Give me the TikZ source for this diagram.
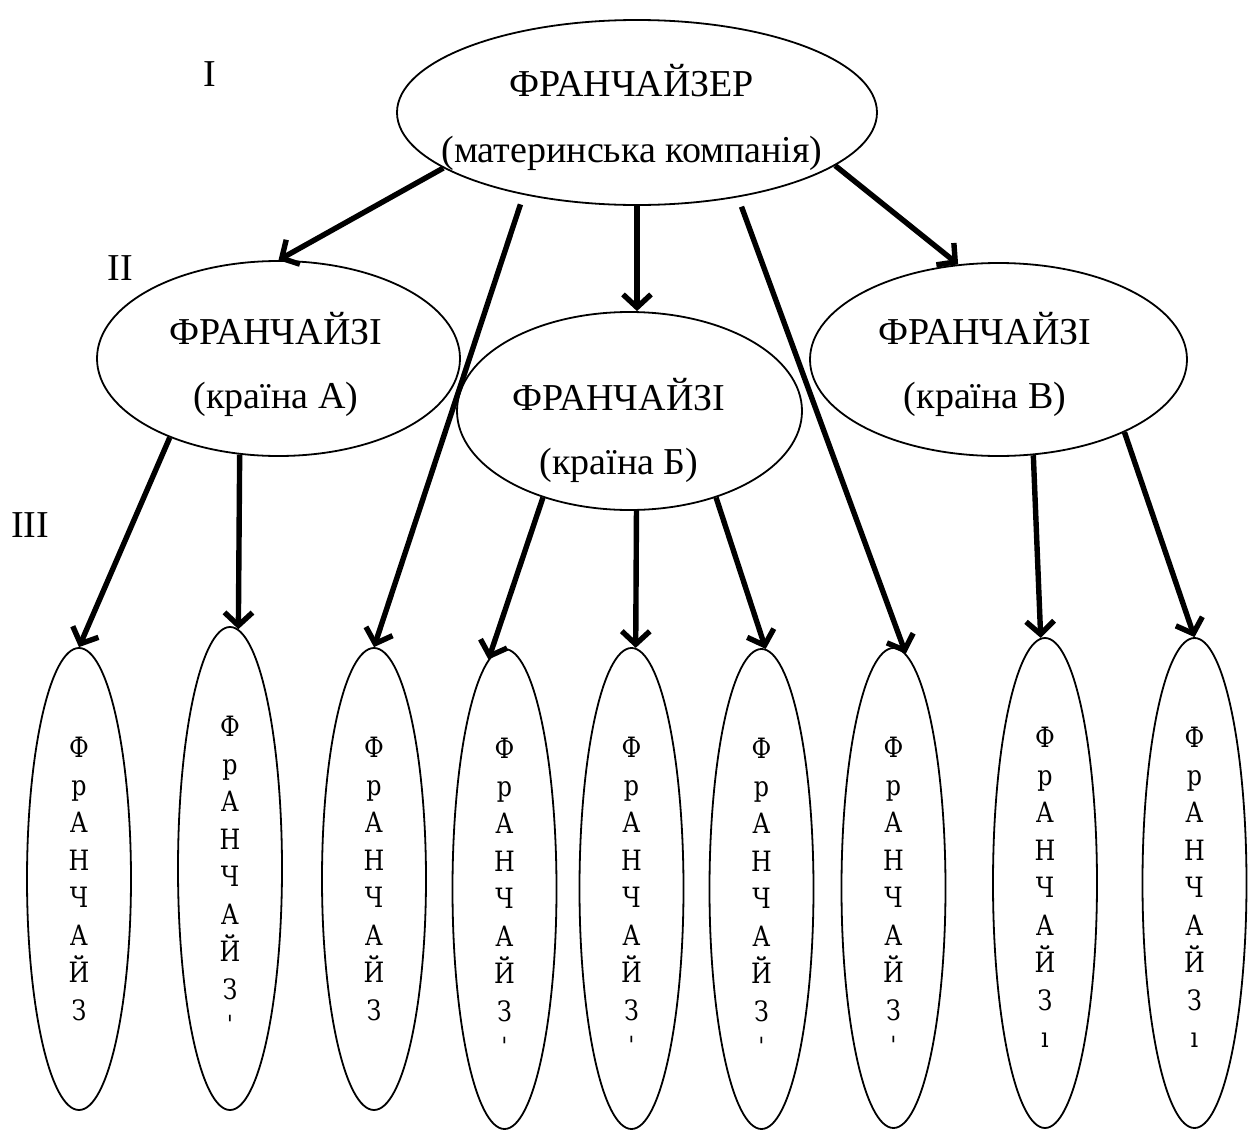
\documentclass[tikz,border=0pt]{standalone}
\usepackage{fontspec}
\setmainfont{Liberation Serif}
\newfontfamily\letterfont[FakeStretch=0.85]{DejaVu Serif}
\usetikzlibrary{shapes.geometric,arrows.meta,positioning}

\begin{document}
\begin{tikzpicture}
[x=0.5pt,y=-0.5pt,
  ovalDecorate/.style={shape=ellipse,draw,line width=0.9pt,inner sep=0pt},%
  smallOval/.style={ovalDecorate,minimum width=52pt},%
  lineDecorate/.style={-{Straight Barb[length=6.5pt,width=14pt]},line width=2.7pt},%
  bigText/.style={font=\fontsize{19pt}{32pt}\selectfont,align=center,inner sep=0pt},%
  letterText/.style={font=\letterfont\fontsize{14pt}{18.75pt}\selectfont,align=center,inner sep=0pt}]
\useasboundingbox (0,0) rectangle (1250,1130);
%% levels
\node (levelI) at (210,74) [bigText] {I};
\node (levelII) at (120,268.5) [bigText] {II};
\node (levelIII) at (30,525) [bigText] {III};
%% franchisor and country franchisees
\node (franchisor) at (637,112.5) [ovalDecorate,minimum width=240pt,minimum height=92.5pt] {};
\node (franchisorText) at (632,117) [bigText,font=\fontsize{19pt}{33pt}\selectfont] {ФРАНЧАЙЗЕР\\(материнська компанія)};
\foreach \nodename/\x/\y/\w/\h/\tx/\ty/\country in {countryA/278.5/358.5/181.5/97.5/276/364/А, countryB/629.5/411/172.5/99/619/430/Б, countryV/998.5/359.5/188.5/96.5/985/364/В} {
  \node (\nodename) at (\x,\y) [ovalDecorate,minimum width=\w pt,minimum height=\h pt] {};
  \node (\nodename Text) at (\tx,\ty) [bigText] {ФРАНЧАЙЗІ\\(країна \country)};
}
%% single franchisees
\foreach \nodename/\x/\y/\h/\tail in {fr1/79/879/462/{}, fr2/230/868.5/483/ˈ, fr3/374/879/462/{}, fr4/504.5/889/480/ˈ, fr5/631.5/888.5/481/ˈ, fr6/761.5/889/480/ˈ, fr7/893.5/888/480/ˈ, fr8/1045/883/490/ı, fr9/1194.5/883/490/ı} {
  \node (\nodename) at (\x,\y) [smallOval,minimum height=\h*0.5pt] {};
  \node (\nodename Text) [letterText,below=45pt of \nodename.north] {Ф\\р\\А\\Н\\Ч\\А\\Й\\З\\\tail};
}
%% arrows
\draw[lineDecorate] (franchisor.196) -- (countryA.north);
\draw[lineDecorate,shorten <=5pt] (franchisor.216) -- (fr3.north);
\draw[lineDecorate] (franchisor.south) -- (franchisor.south |- countryB.north);
\draw[lineDecorate,shorten <=5pt] (franchisor.320) -- (fr7.87);
\draw[lineDecorate] (franchisor.345) -- (countryV.113);
\path
\foreach \startnode/\endnode in {countryA.216/fr1.north, countryA.248/fr2.88, countryB.225/fr4.94, countryB.274/fr5.89, countryB.315/fr6.89, countryV.290/fr8.91, countryV.330/fr9.north} {
  (\startnode) edge[lineDecorate] (\endnode)
};
\end{tikzpicture}
\end{document}
